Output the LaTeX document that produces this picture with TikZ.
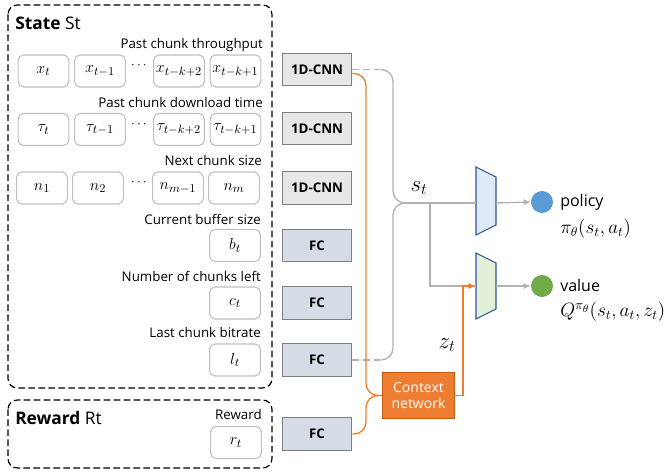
\documentclass[tikz,border=0pt]{standalone}
\usepackage{fontspec}
\setmainfont{Open Sans}
\usepackage{amsmath}
\usepackage{tikz}
\usetikzlibrary{arrows.meta,positioning,calc}
\DeclareMathSizes{12}{12}{9.5}{7.5}
\DeclareMathSizes{13.5}{13.5}{10}{8}
\DeclareMathSizes{17.28}{17.28}{13}{10}
\definecolor{edgegray}{RGB}{127,127,127}
\definecolor{linegray}{RGB}{178,178,178}
\definecolor{boxgray}{RGB}{191,191,191}
\definecolor{cnnfill}{RGB}{231,231,231}
\definecolor{fcfill}{RGB}{214,220,229}
\definecolor{orange2}{RGB}{237,125,49}
\definecolor{darkorange}{RGB}{197,90,17}
\definecolor{navy}{RGB}{47,85,151}
\definecolor{lightblue}{RGB}{222,235,247}
\definecolor{lightgreen}{RGB}{226,240,217}
\definecolor{blue2}{RGB}{91,155,213}
\definecolor{green2}{RGB}{112,173,71}
\tikzset{
  varbox/.style={draw=boxgray, rounded corners=4pt, line width=0.8pt,
    minimum width=38pt, minimum height=24pt, inner sep=0pt, fill=white, font=\large},
  cnnbox/.style={draw=edgegray, line width=0.9pt, fill=cnnfill,
    minimum width=52pt, minimum height=24.5pt, inner sep=1pt, font=\fontsize{10}{11}\selectfont\bfseries},
  fcbox/.style={cnnbox, fill=fcfill},
  ctxbox/.style={draw=darkorange, line width=0.8pt, fill=orange2, text=white, align=center,
    minimum width=54pt, minimum height=35pt, inner sep=1pt, font=\fontsize{10.5}{12}\selectfont},
  lab/.style={anchor=east, inner sep=0pt, font=\fontsize{10}{12}\selectfont},
  title/.style={anchor=west, inner sep=0pt, font=\fontsize{13}{15}\selectfont},
  groupbox/.style={draw, line width=0.9pt, dash pattern=on 5pt off 2.5pt, rounded corners=7pt},
  flow/.style={draw=linegray, line width=1pt},
  dashedflow/.style={flow, dash pattern=on 5pt off 3pt},
  ctxflow/.style={draw=orange2, line width=1pt},
  arrowtip/.style={-{Latex[length=2mm,width=1.6mm]}},
  outlab/.style={anchor=west, inner sep=0pt, font=\fontsize{12}{14}\selectfont},
  outmath/.style={anchor=west, inner sep=0pt, font=\fontsize{13.5}{15}\selectfont},
  policyhead/.style={draw=navy, line width=0.8pt, fill=lightblue},
  valuehead/.style={draw=navy, line width=0.8pt, fill=lightgreen}
}

\begin{document}
\begin{tikzpicture}[x=0.75pt, y=-0.75pt]
\useasboundingbox (0,0) rectangle (665,473);

% groups
\draw[groupbox] (8,5) rectangle (272,388);
\draw[groupbox] (8,400) rectangle (272,468);
\node[title] (stitle) at (15,23) {\textbf{State} St};
\node[title] (rtitle) at (15,418) {\textbf{Reward} Rt};

% state inputs
\node[lab] (l1) at (263,45) {Past chunk throughput};
\node[varbox] (x1) at (43.5,71) {$x_t$};
\node[varbox] (x2) at (100,71) {$x_{t-1}$};
\node[varbox] (x3) at (179,71) {$x_{t-k+2}$};
\node[varbox] (x4) at (235.5,71) {$x_{t-k+1}$};
\node (xd) at (140,66) {$\cdots$};

\node[lab] (l2) at (263,103) {Past chunk download time};
\node[varbox] (t1) at (43.5,129.5) {$\tau_t$};
\node[varbox] (t2) at (100,129.5) {$\tau_{t-1}$};
\node[varbox] (t3) at (179,129.5) {$\tau_{t-k+2}$};
\node[varbox] (t4) at (235.5,129.5) {$\tau_{t-k+1}$};
\node (td) at (140,124.5) {$\cdots$};

\node[lab] (l3) at (262,161) {Next chunk size};
\node[varbox] (n1) at (42,188) {$n_1$};
\node[varbox] (n2) at (98,188) {$n_2$};
\node[varbox] (n3) at (178,188) {$n_{m-1}$};
\node[varbox] (n4) at (234,188) {$n_m$};
\node (nd) at (140,183) {$\cdots$};

\node[lab] (l4) at (261,219) {Current buffer size};
\node[varbox] (bt) at (235,245.5) {$b_t$};
\node[lab] (l5) at (261,276) {Number of chunks left};
\node[varbox] (ct) at (235,303) {$c_t$};
\node[lab] (l6) at (261,333) {Last chunk bitrate};
\node[varbox] (lt) at (235,360) {$l_t$};

\node[lab] (l7) at (262,415) {Reward};
\node[varbox] (rt) at (236,442.5) {$r_t$};

% encoders
\node[cnnbox] (cnn1) at (317,69.5) {1D-CNN};
\node[cnnbox] (cnn2) at (317,128.5) {1D-CNN};
\node[cnnbox] (cnn3) at (317,188) {1D-CNN};
\node[fcbox] (fc1) at (317,245.5) {FC};
\node[fcbox] (fc2) at (317,303) {FC};
\node[fcbox] (fc3) at (317,360) {FC};
\node[fcbox] (fcr) at (317,434) {FC};

\node[ctxbox] (ctx) at (418.5,395.5) {Context\\network};

% heads
\draw[policyhead] (476,167) -- (496,177) -- (496,225) -- (476,235) -- cycle;
\draw[valuehead] (476,253) -- (496,263) -- (496,309) -- (476,319) -- cycle;
\coordinate (pin) at (476,203);
\coordinate (pout) at (496,203);
\coordinate (vin) at (476,286);
\coordinate (vout) at (496,286);
\node[circle, fill=blue2, draw=blue2!85!black, line width=0.3pt, minimum size=16pt, inner sep=0pt] (pol) at (542,202) {};
\node[circle, fill=green2, draw=green2!85!black, line width=0.3pt, minimum size=16pt, inner sep=0pt] (val) at (542,286) {};
\node[outlab] (poltxt) at (560,202) {policy};
\node[outmath] (polfn) at (560,229) {$\pi_\theta(s_t,a_t)$};
\node[outlab] (valtxt) at (560,286) {value};
\node[outmath] (valfn) at (560,312) {$Q^{\pi_\theta}(s_t,a_t,z_t)$};

% state embedding
\coordinate (sj) at (405,203);
\coordinate (sb) at (430,203);
\draw[dashedflow] (cnn1.east) -- ++(29,0) coordinate (g1);
\draw[flow, rounded corners=9pt] (g1) -- (393,69.5) -- (393,203) -- (sj);
\draw[dashedflow] (fc3.east) -- ++(29,0) coordinate (g2);
\draw[flow, rounded corners=9pt] (g2) -- (393,360) -- (393,203) -- (sj);
\draw[flow] (sj) -- (pin);
\draw[flow] (sb) -- (430,286) -- (vin);
\node[font=\LARGE] (st) at (419,188) {$s_t$};

% context
\draw[ctxflow, rounded corners=9pt] ($(cnn1.east)+(0,4)$) -- (366,73.5) -- (366,395.5) -- (ctx.west);
\draw[ctxflow, rounded corners=9pt] (fcr.east) -- (366,434) -- (366,395.5) -- (ctx.west);
\draw[ctxflow, arrowtip] (ctx.east) -- (463,395.5) -- (463,286) -- (vin);
\node[font=\LARGE] (zt) at (447,345) {$z_t$};

% outputs
\draw[flow, arrowtip] (pout) -- (pol.west);
\draw[flow, arrowtip] (vout) -- (val.west);
\end{tikzpicture}
\end{document}
